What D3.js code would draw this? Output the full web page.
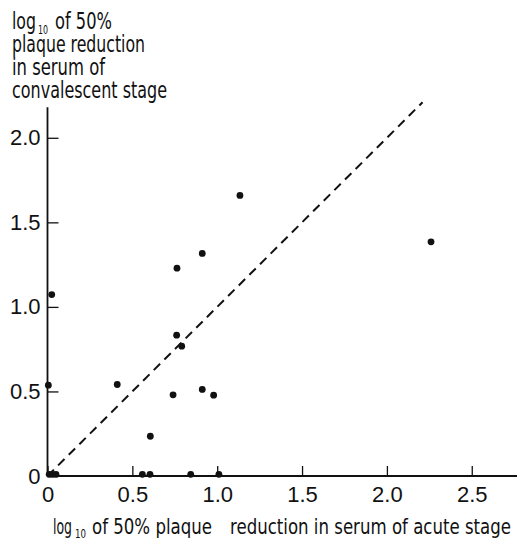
<!DOCTYPE html>
<html>
<head>
<meta charset="utf-8">
<script src="https://cdn.jsdelivr.net/npm/d3@7"></script>
<style>
  html, body { margin: 0; padding: 0; background: #fff; }
  svg { display: block; }
</style>
</head>
<body>
<svg id="chart" width="517" height="542"></svg>
<script>
// ---- data ----
const acute        = [1.134, 0.912, 0.763, 0.025, 2.26, 0.005, 0.411, 0.761, 0.791, 0.740, 0.912, 0.979, 0.606, 0.559, 0.604, 0.844, 1.01, 0.01, 0.03, 0.05];
const convalescent = [1.659, 1.316, 1.229, 1.073, 1.385, 0.537, 0.541, 0.833, 0.768, 0.480, 0.512, 0.478, 0.235, 0.01, 0.01, 0.01, 0.01, 0.01, 0.01, 0.01];
const xTicks = [0, 0.5, 1.0, 1.5, 2.0, 2.5];
const xTickLabels = ["0", "0.5", "1.0", "1.5", "2.0", "2.5"];
const yTicks = [0, 0.5, 1.0, 1.5, 2.0];
const yTickLabels = ["0", "0.5", "1.0", "1.5", "2.0"];
const refLine = [[0, 0], [2.21, 2.21]];
const xAxisEnd = 2.78;
const yAxisEnd = 2.18;

// ---- layout ----
const svg = d3.select("#chart");
const x = d3.scaleLinear().domain([0, 2.5]).range([47.5, 471.75]);
const y = d3.scaleLinear().domain([0, 2]).range([476, 137.8]);
const ink = "#111";
const tickFont = "'Liberation Sans', Arial, sans-serif";
const titleFont = "'Liberation Sans Narrow', 'DejaVu Sans Condensed', 'Liberation Sans', sans-serif";

// axis lines
svg.append("line")
  .attr("x1", x(0)).attr("x2", x(xAxisEnd))
  .attr("y1", y(0)).attr("y2", y(0))
  .attr("stroke", ink).attr("stroke-width", 1.8);
svg.append("line")
  .attr("x1", x(0)).attr("x2", x(0))
  .attr("y1", y(0)).attr("y2", y(yAxisEnd))
  .attr("stroke", ink).attr("stroke-width", 1.8);

// x axis ticks (pointing up)
const xAxis = d3.axisBottom(x)
  .tickValues(xTicks)
  .tickFormat((d, i) => xTickLabels[i])
  .tickSizeInner(-10).tickSizeOuter(0).tickPadding(10);
const gx = svg.append("g").attr("transform", `translate(0,${y(0)})`).call(xAxis);
gx.select(".domain").remove();
gx.selectAll(".tick line").attr("stroke", ink).attr("stroke-width", 1.3);
gx.selectAll(".tick text").attr("fill", ink).style("font-family", tickFont).style("font-size", "22px");

// y axis ticks (pointing right)
const yAxis = d3.axisLeft(y)
  .tickValues(yTicks)
  .tickFormat((d, i) => yTickLabels[i])
  .tickSizeInner(-11).tickSizeOuter(0).tickPadding(7);
const gy = svg.append("g").attr("transform", `translate(${x(0)},0)`).call(yAxis);
gy.select(".domain").remove();
gy.selectAll(".tick line").attr("stroke", ink).attr("stroke-width", 1.3);
gy.selectAll(".tick text").attr("fill", ink).style("font-family", tickFont).style("font-size", "22px");

// dashed reference line
svg.append("line")
  .attr("x1", x(refLine[0][0])).attr("y1", y(refLine[0][1]))
  .attr("x2", x(refLine[1][0])).attr("y2", y(refLine[1][1]))
  .attr("stroke", ink).attr("stroke-width", 2)
  .attr("stroke-dasharray", "9,6");

// points
svg.append("g").selectAll("circle")
  .data(acute.map((a, i) => [a, convalescent[i]]))
  .join("circle")
  .attr("cx", d => x(d[0]))
  .attr("cy", d => y(d[1]))
  .attr("r", 3.4)
  .attr("fill", ink);

// text helper with fitted width
function fitText(str, px, py, width, size) {
  svg.append("text")
    .attr("x", px).attr("y", py)
    .attr("textLength", width)
    .attr("lengthAdjust", "spacingAndGlyphs")
    .attr("fill", ink)
    .style("font-family", titleFont)
    .style("font-size", size + "px")
    .text(str);
}

// y title (top-left)
fitText("log", 12, 29, 24, 23);
fitText("10", 38, 34, 10, 13);
fitText("of 50%", 55, 29, 57, 23);
fitText("plaque reduction", 12, 52, 133, 23);
fitText("in serum of", 12, 75, 93, 23);
fitText("convalescent stage", 12, 98, 155, 23);

// x title (bottom)
fitText("log", 53, 534, 19, 22);
fitText("10", 75, 538, 11, 13);
fitText("of 50% plaque", 92, 534, 120, 22);
fitText("reduction in serum of acute stage", 230, 534, 281, 22);
</script>
</body>
</html>
